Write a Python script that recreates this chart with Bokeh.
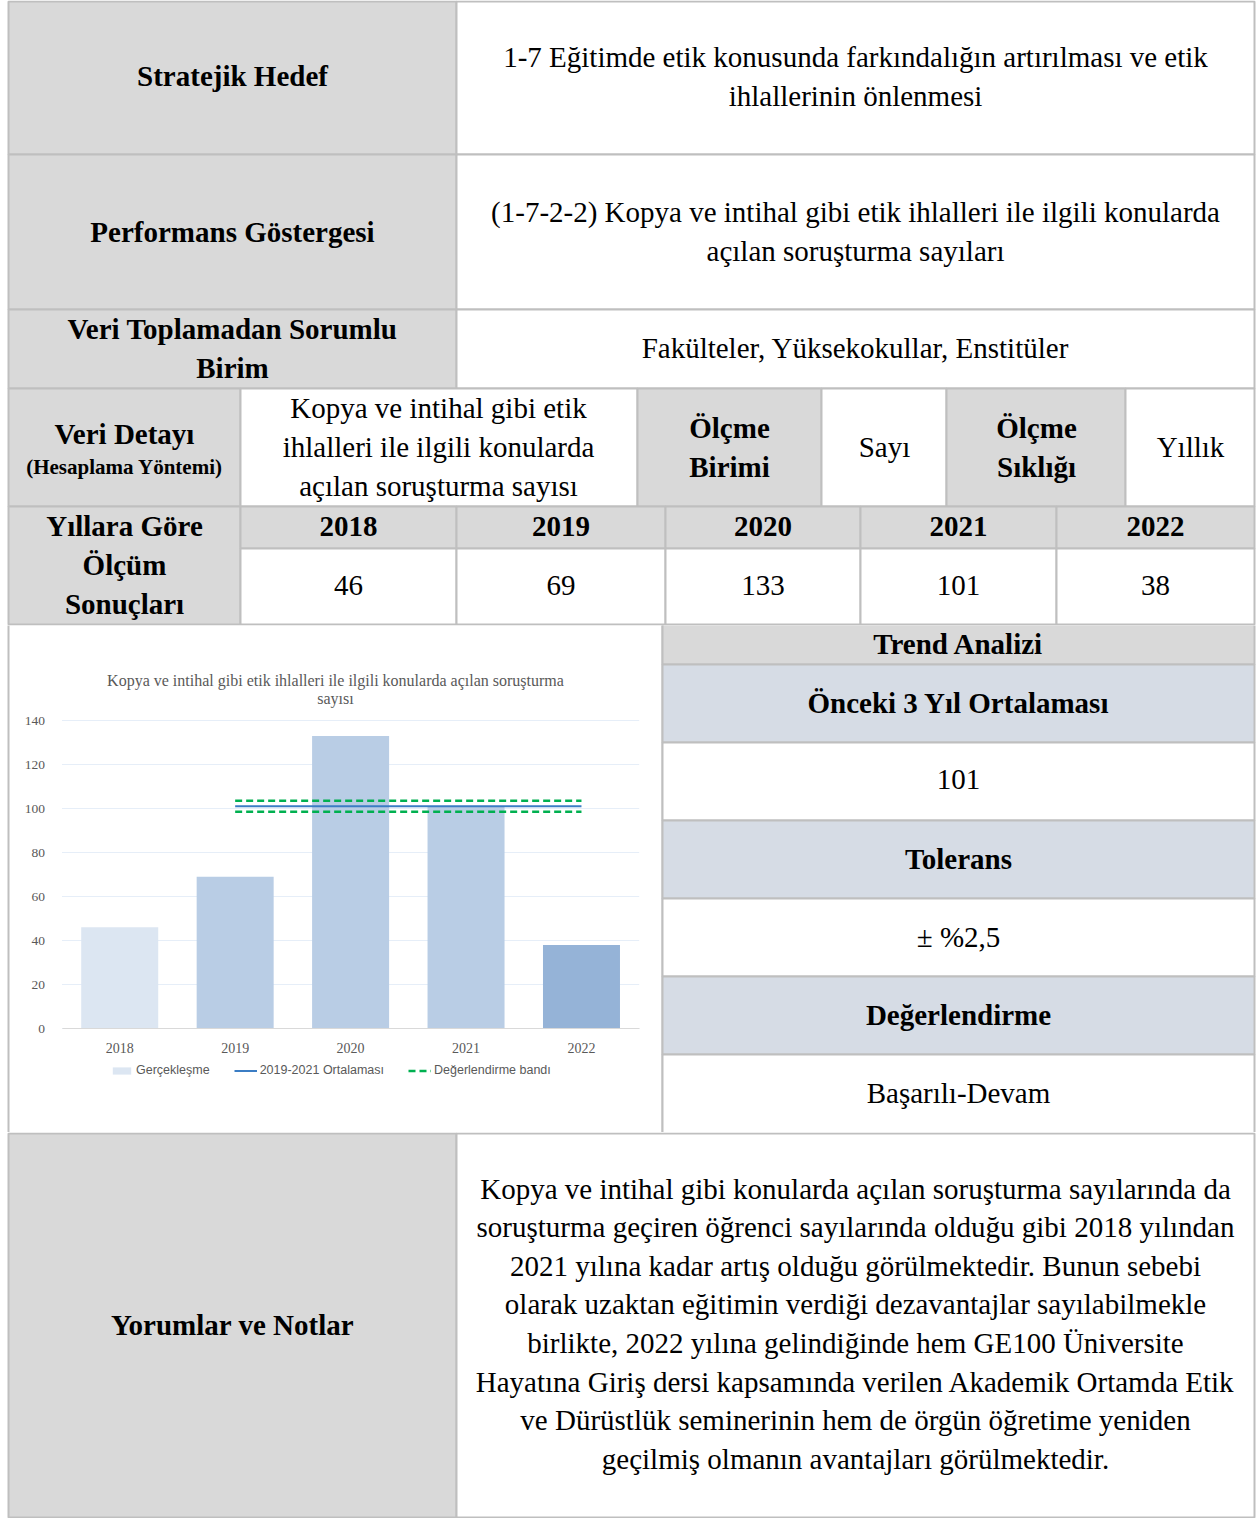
from bokeh.plotting import figure
from bokeh.models import (Range1d, ColumnDataSource, Legend, LegendItem, LinearAxis,
                          FixedTicker)
from bokeh.layouts import column
from bokeh.embed import file_html
from bokeh.resources import INLINE
from bokeh.core.properties import value

# ---------------- data ----------------
years = ["2018", "2019", "2020", "2021", "2022"]
counts = [46, 69, 133, 101, 38]
avg_span = ["2019", "2022"]
avg_value = 101
tolerance_pct = 2.5
bar_colors = ["#dce6f2", "#b9cde5", "#b9cde5", "#b9cde5", "#95b3d7"]
y_ticks = [0, 20, 40, 60, 80, 100, 120, 140]
chart_title = ["Kopya ve intihal gibi etik ihlalleri ile ilgili konularda açılan soruşturma", "sayısı"]
legend_labels = ["Gerçekleşme", "2019-2021 Ortalaması", "Değerlendirme bandı"]

strategic_goal = ["1-7 Eğitimde etik konusunda farkındalığın artırılması ve etik", "ihlallerinin önlenmesi"]
indicator = ["(1-7-2-2) Kopya ve intihal gibi etik ihlalleri ile ilgili konularda", "açılan soruşturma sayıları"]
responsible = "Fakülteler, Yüksekokullar, Enstitüler"
data_detail = ["Kopya ve intihal gibi etik", "ihlalleri ile ilgili konularda", "açılan soruşturma sayısı"]
unit_value = "Sayı"
freq_value = "Yıllık"
trend_value = "101"
tolerance_text = "± %2,5"
evaluation = "Başarılı-Devam"
comments = [
    "Kopya ve intihal gibi konularda açılan soruşturma sayılarında da",
    "soruşturma geçiren öğrenci sayılarında olduğu gibi 2018 yılından",
    "2021 yılına kadar artış olduğu görülmektedir. Bunun sebebi",
    "olarak uzaktan eğitimin verdiği dezavantajlar sayılabilmekle",
    "birlikte, 2022 yılına gelindiğinde hem GE100 Üniversite",
    "Hayatına Giriş dersi kapsamında verilen Akademik Ortamda Etik",
    "ve Dürüstlük seminerinin hem de örgün öğretime yeniden",
    "geçilmiş olmanın avantajları görülmektedir.",
]

GREY = "#d9d9d9"
BLUE = "#d6dce5"
WHITE = "#ffffff"
BORDER = "#bfbfbf"
SERIF = "Liberation Serif"
FS = "29px"
CHART_GREY = "#595959"


def canvas(w, h, xr, yr):
    p = figure(width=w, height=h, x_range=Range1d(*xr), y_range=Range1d(*yr),
               output_backend="svg", toolbar_location=None, min_border=0,
               x_axis_location=None, y_axis_location=None)
    p.grid.visible = False
    p.outline_line_color = None
    p.background_fill_color = WHITE
    p.border_fill_color = WHITE
    p.title.visible = False
    return p


def cells(p, rects):
    src = ColumnDataSource(dict(l=[r[0] for r in rects], r=[r[1] for r in rects],
                                t=[r[2] for r in rects], b=[r[3] for r in rects],
                                c=[r[4] for r in rects]))
    p.quad(left="l", right="r", top="t", bottom="b", fill_color="c", source=src,
           line_color=BORDER, line_width=2)


def texts(p, items, bold=True, size=FS, color="black"):
    src = ColumnDataSource(dict(x=[i[0] for i in items], y=[i[1] for i in items],
                                t=[i[2] for i in items]))
    p.text(x="x", y="y", text="t", source=src, text_align="center", text_baseline="middle",
           text_font=value(SERIF), text_font_size=value(size),
           text_font_style="bold" if bold else "normal", text_color=color)


# ---------------- top table ----------------
top = canvas(1258, 625, (0, 1258), (625, 0))
col_x = [240, 456, 665, 860, 1056, 1254]
top_rects = [
    (8, 456, 1, 154, GREY), (456, 1254, 1, 154, WHITE),
    (8, 456, 154, 309, GREY), (456, 1254, 154, 309, WHITE),
    (8, 456, 309, 388, GREY), (456, 1254, 309, 388, WHITE),
    (8, 240, 388, 506, GREY), (240, 637, 388, 506, WHITE), (637, 821, 388, 506, GREY),
    (821, 946, 388, 506, WHITE), (946, 1125, 388, 506, GREY), (1125, 1254, 388, 506, WHITE),
    (8, 240, 506, 624, GREY),
]
for i in range(5):
    top_rects.append((col_x[i], col_x[i + 1], 506, 548, GREY))
    top_rects.append((col_x[i], col_x[i + 1], 548, 624, WHITE))
cells(top, top_rects)

texts(top, [
    (232, 75, "Stratejik Hedef"),
    (232, 231, "Performans Göstergesi"),
    (232, 328, "Veri Toplamadan Sorumlu"), (232, 367, "Birim"),
    (124, 433, "Veri Detayı"),
    (729, 427, "Ölçme"), (729, 466, "Birimi"),
    (1036, 427, "Ölçme"), (1036, 466, "Sıklığı"),
    (124, 525, "Yıllara Göre"), (124, 564, "Ölçüm"), (124, 603, "Sonuçları"),
] + [((col_x[i] + col_x[i + 1]) / 2, 526, years[i]) for i in range(5)])
texts(top, [(124, 466, "(Hesaplama Yöntemi)")], size="21px")
texts(top, [
    (855, 56, strategic_goal[0]), (855, 95, strategic_goal[1]),
    (855, 211, indicator[0]), (855, 250, indicator[1]),
    (855, 347, responsible),
    (438, 407, data_detail[0]), (438, 446, data_detail[1]), (438, 485, data_detail[2]),
    (884, 446, unit_value), (1190, 446, freq_value),
] + [((col_x[i] + col_x[i + 1]) / 2, 585, str(counts[i])) for i in range(5)], bold=False)

# ---------------- middle: chart + trend panel ----------------
mid = canvas(1258, 507, (0, 1258), (1132, 625))
# chart coordinate system: category i centred at i, plot area x 61.5..638.7, y 0 -> 1028, 140 -> 720
CAT_PX = (638.7 - 61.5) / len(years)
VAL_PX = (1028 - 720) / 140
mid.extra_x_ranges = {"cx": Range1d(-0.5 - 61.5 / CAT_PX, -0.5 + (1258 - 61.5) / CAT_PX)}
mid.extra_y_ranges = {"cy": Range1d(-(1132 - 1028) / VAL_PX, (1028 - 625) / VAL_PX)}

cells(mid, [
    (8, 662, 624, 1133, WHITE),
    (662, 1254, 624, 664, GREY), (662, 1254, 664, 742, BLUE), (662, 1254, 742, 820, WHITE),
    (662, 1254, 820, 898, BLUE), (662, 1254, 898, 976, WHITE),
    (662, 1254, 976, 1054, BLUE), (662, 1254, 1054, 1133, WHITE),
])
texts(mid, [(958, 643, "Trend Analizi"), (958, 702, "Önceki 3 Yıl Ortalaması"),
            (958, 858, "Tolerans"), (958, 1014, "Değerlendirme")])
texts(mid, [(958, 779, trend_value), (958, 936, tolerance_text), (958, 1092, evaluation)], bold=False)

bar_x = list(range(len(years)))
n = len(years)
# horizontal gridlines
mid.segment(x0=[-0.5] * len(y_ticks), x1=[n - 0.5] * len(y_ticks), y0=y_ticks, y1=y_ticks,
            line_color="#e6eef8", line_width=1, x_range_name="cx", y_range_name="cy")

bar_src = ColumnDataSource(dict(x=bar_x, top=counts, color=bar_colors))
bars = mid.vbar(x="x", top="top", width=0.667, fill_color="color", line_color=None,
                source=bar_src, x_range_name="cx", y_range_name="cy")
span_x = [years.index(y) for y in avg_span]
avg_line = mid.line(span_x, [avg_value, avg_value], line_color="#3b7dc4", line_width=2,
                    x_range_name="cx", y_range_name="cy")
up = avg_value * (1 + tolerance_pct / 100)
lo = avg_value * (1 - tolerance_pct / 100)
band_up = mid.line(span_x, [up, up], line_color="#00b050", line_width=2.5, line_dash="7 4",
                   x_range_name="cx", y_range_name="cy")
mid.line(span_x, [lo, lo], line_color="#00b050", line_width=2.5, line_dash="7 4",
         x_range_name="cx", y_range_name="cy")

yax = LinearAxis(x_range_name="cx", y_range_name="cy", fixed_location=-0.5,
                 ticker=FixedTicker(ticks=y_ticks), axis_line_color=None,
                 major_tick_line_color=None, minor_tick_line_color=None,
                 major_label_standoff=11, major_label_text_font=SERIF,
                 major_label_text_font_size="13.5px", major_label_text_color=CHART_GREY)
mid.add_layout(yax, "left")
xax = LinearAxis(x_range_name="cx", y_range_name="cy", fixed_location=0,
                 ticker=FixedTicker(ticks=bar_x),
                 major_label_overrides={i: years[i] for i in bar_x},
                 bounds=(-0.5, n - 0.5), axis_line_color="#d9d9d9",
                 major_tick_line_color=None, minor_tick_line_color=None,
                 major_label_standoff=8, major_label_text_font=SERIF,
                 major_label_text_font_size="14px", major_label_text_color=CHART_GREY)
mid.add_layout(xax, "below")

texts(mid, [(335, 680, chart_title[0]), (335, 698, chart_title[1])], bold=False,
      size="16px", color=CHART_GREY)

legend = Legend(items=[
    LegendItem(label=legend_labels[0], renderers=[bars], index=0),
    LegendItem(label=legend_labels[1], renderers=[avg_line]),
    LegendItem(label=legend_labels[2], renderers=[band_up]),
], orientation="horizontal", location=(110, 55), border_line_color=None,
    background_fill_alpha=0, label_text_font="Liberation Sans", label_text_font_size="12.5px",
    label_text_color=CHART_GREY, glyph_width=23, glyph_height=9, spacing=24,
    label_standoff=3, padding=2, margin=0)
mid.add_layout(legend)

# ---------------- bottom ----------------
bottom = canvas(1258, 386, (0, 1258), (1518, 1132))
cells(bottom, [(8, 456, 1133, 1517, GREY), (456, 1254, 1133, 1517, WHITE)])
texts(bottom, [(232, 1324, "Yorumlar ve Notlar")])
texts(bottom, [(855, 1188 + i * 38.6, line) for i, line in enumerate(comments)], bold=False)

layout = column(top, mid, bottom)
open("out.html", "w").write(file_html(layout, INLINE))
